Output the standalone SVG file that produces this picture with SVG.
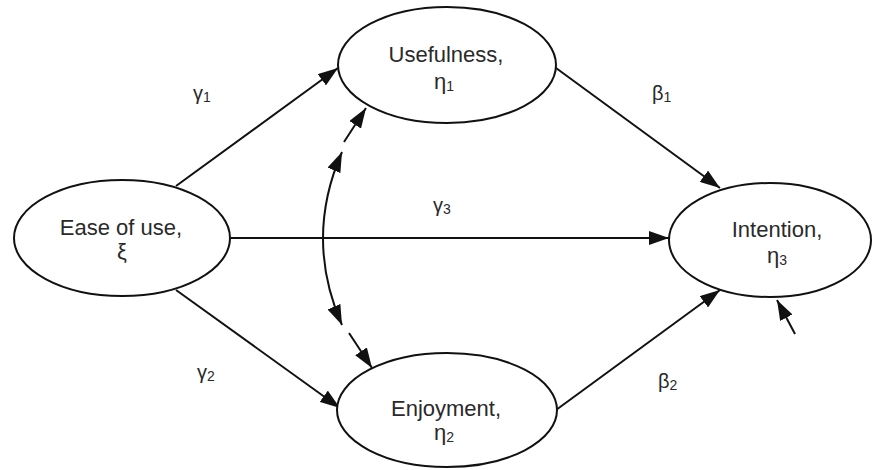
<svg xmlns="http://www.w3.org/2000/svg" width="877" height="470" viewBox="0 0 877 470">
<defs>
<style>
.node{fill:#fff;stroke:#111;stroke-width:2}
.t{font-family:"Liberation Sans",Arial,sans-serif;font-size:22px;fill:#2a2a2a;text-anchor:middle}
.lbl{font-family:"Liberation Sans",Arial,sans-serif;font-size:20px;fill:#2a2a2a}
.sub{font-size:14px}
.c{fill:none;stroke:#111;stroke-width:2}
</style>
<marker id="ah" viewBox="0 0 20 14" refX="20" refY="7" markerWidth="20" markerHeight="14" markerUnits="userSpaceOnUse" orient="auto-start-reverse">
<path d="M0,0 L20,7 L0,14 Z" fill="#111"/>
</marker>
</defs>
<rect width="877" height="470" fill="#fff"/>
<g id="connectors">
<line class="c" x1="176" y1="186" x2="338" y2="68" marker-end="url(#ah)"/>
<line class="c" x1="176" y1="290" x2="340" y2="408" marker-end="url(#ah)"/>
<line class="c" x1="230" y1="238" x2="669" y2="238" marker-end="url(#ah)"/>
<line class="c" x1="556" y1="68" x2="720" y2="188" marker-end="url(#ah)"/>
<line class="c" x1="556" y1="410" x2="720" y2="290" marker-end="url(#ah)"/>
<line class="c" x1="795" y1="334" x2="777" y2="300" marker-end="url(#ah)"/>
<path class="c" d="M342,152 Q304,238.5 342,325" marker-start="url(#ah)" marker-end="url(#ah)"/>
<line class="c" x1="344" y1="142" x2="366" y2="108" marker-end="url(#ah)"/>
<line class="c" x1="349" y1="333" x2="372" y2="368" marker-end="url(#ah)"/>
</g>
<g id="labels">
<text class="lbl" x="193" y="100">γ<tspan class="sub" dy="2">1</tspan></text>
<text class="lbl" x="197" y="379">γ<tspan class="sub" dy="2">2</tspan></text>
<text class="lbl" x="433" y="212">γ<tspan class="sub" dy="2">3</tspan></text>
<text class="lbl" x="652" y="100">β<tspan class="sub" dy="2">1</tspan></text>
<text class="lbl" x="658" y="388">β<tspan class="sub" dy="2">2</tspan></text>
</g>
<g id="ease">
<ellipse class="node" cx="122" cy="238" rx="108" ry="58"/>
<text class="t" x="121" y="235">Ease of use,</text>
<text class="t" x="122" y="259">ξ</text>
</g>
<g id="usefulness">
<ellipse class="node" cx="447" cy="65" rx="109" ry="58"/>
<text class="t" x="446" y="62">Usefulness,</text>
<text class="t" x="444" y="89">η<tspan class="sub" dy="2">1</tspan></text>
</g>
<g id="enjoyment">
<ellipse class="node" cx="447" cy="410" rx="110" ry="57"/>
<text class="t" x="446" y="416">Enjoyment,</text>
<text class="t" x="444" y="440">η<tspan class="sub" dy="2">2</tspan></text>
</g>
<g id="intention">
<ellipse class="node" cx="770" cy="240" rx="101" ry="57"/>
<text class="t" x="777" y="237">Intention,</text>
<text class="t" x="777" y="263">η<tspan class="sub" dy="2">3</tspan></text>
</g>
</svg>
